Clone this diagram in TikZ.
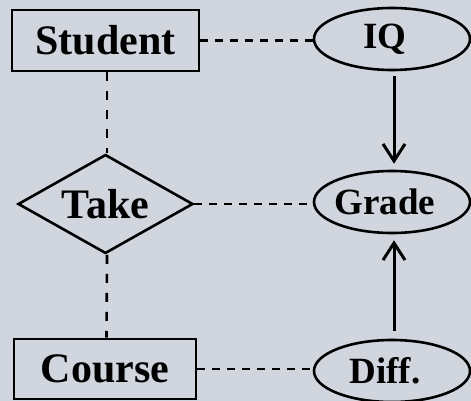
\documentclass[tikz,border=0pt]{standalone}
\usepackage{fontspec}
\setmainfont{Liberation Serif}
\usetikzlibrary{shapes.geometric,arrows.meta}
\definecolor{bgcol}{RGB}{208,213,222}
% attribute labels sit a little left of the ellipse centre
\newcommand{\attrtext}[1]{\hspace*{-14pt}#1}
\tikzset{
  x=1pt, y=-1pt,
  every node/.style={inner sep=0pt, font=\bfseries},
  entity/.style={draw, line width=2.6pt, minimum width=187pt, minimum height=61pt, font=\bfseries\fontsize{42}{42}\selectfont},
  relation/.style={draw, diamond, aspect=1.77, line width=2.6pt, minimum width=175pt, minimum height=99pt, font=\bfseries\fontsize{42}{42}\selectfont},
  attrib/.style={draw, ellipse, line width=2.6pt, minimum width=156pt, minimum height=62pt, font=\bfseries\fontsize{37}{37}\selectfont},
  hlink/.style={line width=2.6pt, dash pattern=on 8pt off 7pt},
  vlink/.style={line width=2.6pt, dash pattern=on 9pt off 10pt},
  dep/.style={line width=3pt, -{Straight Barb[length=17pt, width=22pt, line width=3pt]}}
}
\begin{document}
\begin{tikzpicture}
\fill[bgcol] (0,0) rectangle (471,401);
\useasboundingbox (0,0) rectangle (471,401);

% entities and relationship
\node[entity]   (student) at (105.5,40.5) {Student};
\node[relation] (take)    at (105.5,204)  {Take};
\node[entity, minimum width=182pt, minimum height=60pt] (course) at (105,369) {Course};

% attributes
\node[attrib] (iq)    at (392,39)  {\attrtext{IQ}};
\node[attrib] (grade) at (392,202) {\attrtext{Grade}};
\node[attrib] (diff)  at (392,371) {\attrtext{Diff.}};

% undirected links
\draw[hlink] (student.east) -- (student.east -| iq.west);
\draw[hlink] (take.east) -- (take.east -| grade.west);
\draw[hlink] (course.east) -- (course.east -| diff.west);
\draw[vlink] ([xshift=1.5pt]student.south) -- ([xshift=1.5pt]take.north);
\draw[vlink] ([xshift=1.5pt]take.south) -- ([xshift=1.5pt]course.north);

% dependencies
\draw[dep, shorten <=5pt, shorten >=6pt] ([xshift=2pt]iq.south) -- ([xshift=2pt]grade.north);
\draw[dep, shorten <=8pt, shorten >=6pt] ([xshift=2pt]diff.north) -- ([xshift=2pt]grade.south);
\end{tikzpicture}
\end{document}
